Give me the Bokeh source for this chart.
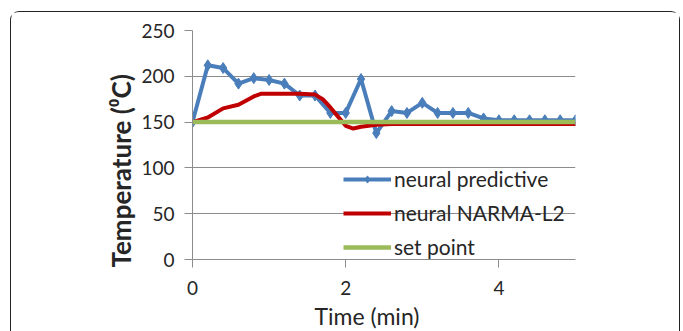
from bokeh.plotting import figure
from bokeh.models import Legend, LegendItem, FixedTicker, Title
from bokeh.embed import file_html
from bokeh.resources import INLINE

# ---- data ----
pred_t = [0, 0.2, 0.4, 0.6, 0.8, 1.0, 1.2, 1.4, 1.6, 1.8, 2.0, 2.2, 2.4, 2.6, 2.8,
          3.0, 3.2, 3.4, 3.6, 3.8, 4.0, 4.2, 4.4, 4.6, 4.8, 5.0]
pred_temp = [150, 212, 209, 192, 198, 196, 192, 179, 179, 160, 160, 197, 138, 162, 160,
             171, 160, 160, 160, 154, 152, 152, 152, 152, 152, 152]

narma_t = [0, 0.2, 0.4, 0.6, 0.8, 0.9, 1.0, 1.2, 1.4, 1.6, 1.7, 1.8, 1.9, 2.0, 2.1,
           2.2, 2.4, 2.6, 3.0, 4.0, 5.0]
narma_temp = [150, 155, 165, 169, 178, 181, 181, 181, 181, 180, 175, 166, 156, 146, 143,
              145, 147, 148, 148, 148, 148]

set_t = [0, 5]
set_temp = [150, 150]

x_ticks = [0, 2, 4]
y_ticks = [0, 50, 100, 150, 200, 250]
series_names = ["neural predictive", "neural NARMA-L2", "set point"]
x_title = "Time (min)"
y_title = "Temperature (\u2070C)"

FONT = "Lato"
TXT = "#262626"
AX = "#8c8c8c"

p = figure(width=670, height=320, x_range=(0, 5), y_range=(0, 250),
           output_backend="svg", toolbar_location=None,
           min_border_left=181, min_border_right=106, min_border_top=18,
           min_border_bottom=73, margin=(11, 0, 0, 10),
           styles={"border-top": "1px solid #222", "border-left": "1px solid #222",
                   "border-right": "1px solid #222", "border-top-left-radius": "9px",
                   "border-top-right-radius": "9px"})
p.outline_line_color = None
p.background_fill_color = "white"
p.border_fill_color = "white"

p.xgrid.grid_line_color = None
p.ygrid.grid_line_color = AX
p.ygrid.grid_line_width = 1

p.xaxis.ticker = FixedTicker(ticks=x_ticks)
p.yaxis.ticker = FixedTicker(ticks=y_ticks)
for ax in (p.xaxis, p.yaxis):
    ax.axis_line_color = AX
    ax.major_tick_line_color = AX
    ax.major_tick_out = 8
    ax.major_tick_in = 0
    ax.minor_tick_line_color = None
    ax.major_label_text_font = FONT
    ax.major_label_text_font_size = "19px"
    ax.major_label_text_color = TXT
p.xaxis.major_label_standoff = 13
p.yaxis.major_label_standoff = 10

# axis titles as side titles (allow offset along the axis)
p.add_layout(Title(text=y_title, align="left", offset=-8, standoff=3,
                   text_font=FONT, text_font_size="26px", text_font_style="bold",
                   text_color=TXT), "left")
p.add_layout(Title(text=x_title, align="left", offset=122, standoff=4,
                   text_font=FONT, text_font_size="23px", text_font_style="normal",
                   text_color=TXT), "below")

r_pred = p.line(pred_t, pred_temp, line_color="#4a7ebb", line_width=4)
r_pred_m = p.scatter(pred_t, pred_temp, marker="diamond", size=11,
                     fill_color="#4a7ebb", line_color="#4a7ebb")
r_narma = p.line(narma_t, narma_temp, line_color="#c00000", line_width=4)
r_set = p.line(set_t, set_temp, line_color="#9bbb59", line_width=4.5)

legend = Legend(items=[
    LegendItem(label=series_names[0], renderers=[r_pred, r_pred_m]),
    LegendItem(label=series_names[1], renderers=[r_narma]),
    LegendItem(label=series_names[2], renderers=[r_set]),
], location=(151, 0))
legend.background_fill_alpha = 0
legend.border_line_color = None
legend.padding = 0
legend.margin = 0
legend.spacing = 9
legend.glyph_width = 48
legend.glyph_height = 18
legend.label_height = 18
legend.label_standoff = 3
legend.label_text_font = FONT
legend.label_text_font_size = "21px"
legend.label_text_color = TXT
p.add_layout(legend, "center")

open("out.html", "w").write(file_html(p, INLINE))
